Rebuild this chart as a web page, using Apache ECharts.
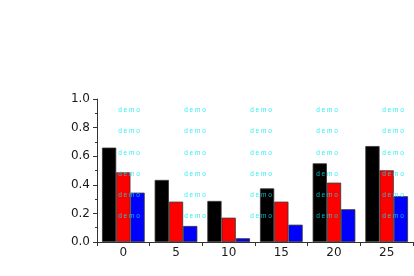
<!DOCTYPE html>
<html>
<head>
<meta charset="utf-8">
<script src="https://cdn.jsdelivr.net/npm/echarts@6/dist/echarts.min.js"></script>
<style>
html,body{margin:0;padding:0;background:#fff;}
#main{width:414px;height:276px;}
</style>
</head>
<body>
<div id="main"></div>
<script>
var categories = ['0', '5', '10', '15', '20', '25'];
var seriesBlack = [0.66, 0.434, 0.287, 0.375, 0.55, 0.671];
var seriesRed = [0.487, 0.282, 0.17, 0.282, 0.415, 0.501];
var seriesBlue = [0.345, 0.112, 0.026, 0.121, 0.229, 0.32];
var yTicks = [0, 0.2, 0.4, 0.6, 0.8, 1.0];

var chart = echarts.init(document.getElementById('main'), null, {renderer: 'canvas'});

// watermark "demo" pattern
var wmCols = [129, 195, 261, 327, 393];
var wmRows = [110, 131, 153, 174, 195, 216];
var graphics = [];
wmCols.forEach(function (cx) {
  wmRows.forEach(function (cy) {
    graphics.push({
      type: 'text',
      x: cx, y: cy, z: 100,
      style: {
        text: 'd e m o',
        fill: '#00e8f0',
        opacity: 0.8,
        font: '6.5px "Liberation Sans", Arial, sans-serif',
        align: 'center',
        verticalAlign: 'middle'
      }
    });
  });
});

var labelFont = {color: '#1a1a1a', fontSize: 12, fontFamily: '"DejaVu Sans", sans-serif'};
var barStyle = function (c) {
  return {color: c, borderColor: '#333', borderWidth: 0.8};
};

chart.setOption({
  animation: false,
  backgroundColor: '#fff',
  grid: {left: 97, right: 1, top: 99, bottom: 34, containLabel: false},
  xAxis: {
    type: 'category',
    data: categories,
    boundaryGap: true,
    axisLine: {show: true, lineStyle: {color: '#333', width: 1}},
    axisTick: {show: true, alignWithLabel: false, length: 4, lineStyle: {color: '#333'}},
    axisLabel: Object.assign({margin: 5}, labelFont),
    splitLine: {show: false}
  },
  yAxis: {
    type: 'value',
    min: yTicks[0],
    max: yTicks[yTicks.length - 1],
    interval: 0.2,
    axisLine: {show: true, lineStyle: {color: '#333', width: 1}},
    axisTick: {show: true, length: 4, lineStyle: {color: '#333'}},
    minorTick: {show: true, splitNumber: 2, length: 2, lineStyle: {color: '#333'}},
    axisLabel: Object.assign({margin: 7, formatter: function (v) { return v.toFixed(1); }}, labelFont),
    splitLine: {show: false}
  },
  series: [
    {type: 'bar', data: seriesBlack, barGap: '0%', barCategoryGap: '19%', itemStyle: barStyle('#000000')},
    {type: 'bar', data: seriesRed, barGap: '0%', barCategoryGap: '19%', itemStyle: barStyle('#ff0000')},
    {type: 'bar', data: seriesBlue, barGap: '0%', barCategoryGap: '19%', itemStyle: barStyle('#0000ff')}
  ],
  graphic: graphics
});
</script>
</body>
</html>
